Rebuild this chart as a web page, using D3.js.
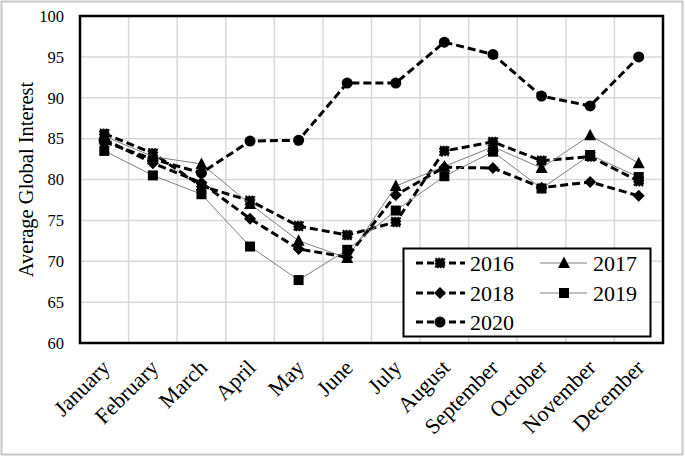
<!DOCTYPE html>
<html>
<head>
<meta charset="utf-8">
<script src="https://cdn.jsdelivr.net/npm/d3@7"></script>
<style>
  body { margin:0; background:#fff; }
  svg text { font-family:"Liberation Serif","Times New Roman",serif; fill:#000; }
</style>
</head>
<body>
<div id="chart"></div>
<script>
// months on the x axis
var months = ['January','February','March','April','May','June','July',
  'August','September','October','November','December']
var yTicks = [60,65,70,75,80,85,90,95,100]

// average global interest per year
var y2016 = [85.6,83.2,79.2,77.4,74.3,73.2,74.8,83.5,84.6,82.3,82.8,79.8]
var y2017 = [85.3,82.8,81.9,77.0,72.5,70.4,79.2,81.6,84.0,81.4,85.4,82.0]
var y2018 = [84.9,82.0,79.6,75.2,71.5,70.5,78.1,81.5,81.4,79.0,79.7,78.0]
var y2019 = [83.5,80.5,78.2,71.8,67.7,71.4,76.2,80.4,83.4,78.9,83.0,80.3]
var y2020 = [84.6,82.5,80.8,84.7,84.8,91.8,91.8,96.8,95.3,90.2,89.0,95.0]

var seriesNames = ['2016','2017','2018','2019','2020']

var series = [
  {name:'2016', vals:y2016, dashed:true,  sym:'star'},
  {name:'2017', vals:y2017, dashed:false, sym:'triangle'},
  {name:'2018', vals:y2018, dashed:true,  sym:'diamond'},
  {name:'2019', vals:y2019, dashed:false, sym:'square'},
  {name:'2020', vals:y2020, dashed:true,  sym:'circle'}
]

var W = 685, H = 456
var plot = {l:80, t:16, r:663, b:343}

var svg = d3.select('#chart').append('svg')
  .attr('width',W).attr('height',H)

// outer frame of the picture
svg.append('rect')
  .attr('x',1.5).attr('y',1.5).attr('width',W-4).attr('height',H-3)
  .style('fill','#fff').style('stroke','#c8c8c8').style('stroke-width',2)

var x = d3.scaleBand().domain(months).range([plot.l,plot.r])
var y = d3.scaleLinear().domain([60,100]).range([plot.b,plot.t])

// grid
var grid = svg.append('g').attr('id','grid')
grid.selectAll('line.h').data(yTicks).enter().append('line')
  .attr('x1',plot.l).attr('x2',plot.r)
  .attr('y1',function(d){return y(d)}).attr('y2',function(d){return y(d)})
  .style('stroke','#d9d9d9').style('stroke-width',1.5)
grid.selectAll('line.v').data(months.slice(1)).enter().append('line')
  .attr('x1',function(d){return x(d)}).attr('x2',function(d){return x(d)})
  .attr('y1',plot.t).attr('y2',plot.b)
  .style('stroke','#d9d9d9').style('stroke-width',1.5)

// y axis labels
var yAxis = d3.axisLeft(y).tickValues(yTicks).tickSize(0).tickPadding(16)
svg.append('g').attr('transform','translate('+plot.l+',0)').call(yAxis)
  .attr('font-family',null).attr('font-size',null)
  .call(function(g){ g.select('.domain').remove() })
  .selectAll('text').style('font-size','16.5px')

// x axis labels, rotated
var xAxis = d3.axisBottom(x).tickSize(0).tickPadding(0)
svg.append('g').attr('transform','translate(0,'+plot.b+')').call(xAxis)
  .attr('font-family',null).attr('font-size',null)
  .call(function(g){ g.select('.domain').remove() })
  .selectAll('text')
  .style('font-size','22px')
  .attr('text-anchor','end')
  .attr('dy',null).attr('y',0)
  .attr('transform','translate(7,26) rotate(-45)')

// y title, centred on the plot area
svg.append('text')
  .attr('transform','translate(33,'+((plot.t+plot.b)/2)+') rotate(-90)')
  .attr('text-anchor','middle')
  .style('font-size','20.5px')
  .text('Average Global Interest')

// plot border
svg.append('rect')
  .attr('x',plot.l).attr('y',plot.t)
  .attr('width',plot.r-plot.l).attr('height',plot.b-plot.t)
  .style('fill','none').style('stroke','#000').style('stroke-width',2.5)

function marker(sel, sym){
  if(sym=='circle'){
    sel.append('circle').attr('r',5.5).style('fill','#000')
  }else if(sym=='square'){
    sel.append('rect').attr('x',-5).attr('y',-5).attr('width',10).attr('height',10)
      .style('fill','#000')
  }else if(sym=='star'){
    sel.append('rect').attr('x',-4.5).attr('y',-4.5).attr('width',9).attr('height',9)
      .style('fill','#000').style('stroke','#000').style('stroke-width',1.5)
      .style('stroke-dasharray','1.5,1.5')
  }else if(sym=='diamond'){
    sel.append('path').attr('d','M0,-6L6,0L0,6L-6,0Z').style('fill','#000')
  }else if(sym=='triangle'){
    sel.append('path').attr('d','M0,-6.5L6,5L-6,5Z').style('fill','#000')
  }
}

var line = d3.line()
  .x(function(d,i){return x(months[i]) + x.bandwidth()/2})
  .y(function(d){return y(d)})

series.forEach(function(s){
  var g = svg.append('g').attr('class','series s'+s.name)
  g.append('path').attr('d',line(s.vals))
    .style('fill','none')
    .style('stroke', s.dashed ? '#000' : '#7f7f7f')
    .style('stroke-width', s.dashed ? 3 : 1)
    .style('stroke-dasharray', s.dashed ? '8,4' : null)
  g.selectAll('g.pt').data(s.vals).enter().append('g')
    .attr('transform',function(d,i){
      return 'translate('+(x(months[i])+x.bandwidth()/2)+','+y(d)+')'
    })
    .each(function(){ marker(d3.select(this), s.sym) })
})

// legend
var leg = svg.append('g').attr('id','legend')
leg.append('rect').attr('x',403.5).attr('y',248.5).attr('width',247).attr('height',88)
  .style('fill','#fff').style('stroke','#000').style('stroke-width',2)
var legPos = [[416,263],[540,263],[416,293],[540,293],[416,322]]
series.forEach(function(s,i){
  var p = legPos[i]
  var item = leg.append('g').attr('transform','translate('+p[0]+','+p[1]+')')
  item.append('line').attr('x1',0).attr('x2',s.dashed ? 49 : 47).attr('y1',0).attr('y2',0)
    .style('stroke', s.dashed ? '#000' : '#7f7f7f')
    .style('stroke-width', s.dashed ? 3 : 1)
    .style('stroke-dasharray', s.dashed ? '7,4' : null)
  var m = item.append('g').attr('transform','translate(24,0)')
  marker(m, s.sym)
  item.append('text').attr('x', s.dashed ? 54 : 53).attr('y',8)
    .style('font-size','22px').text(seriesNames[i])
})
</script>
</body>
</html>
